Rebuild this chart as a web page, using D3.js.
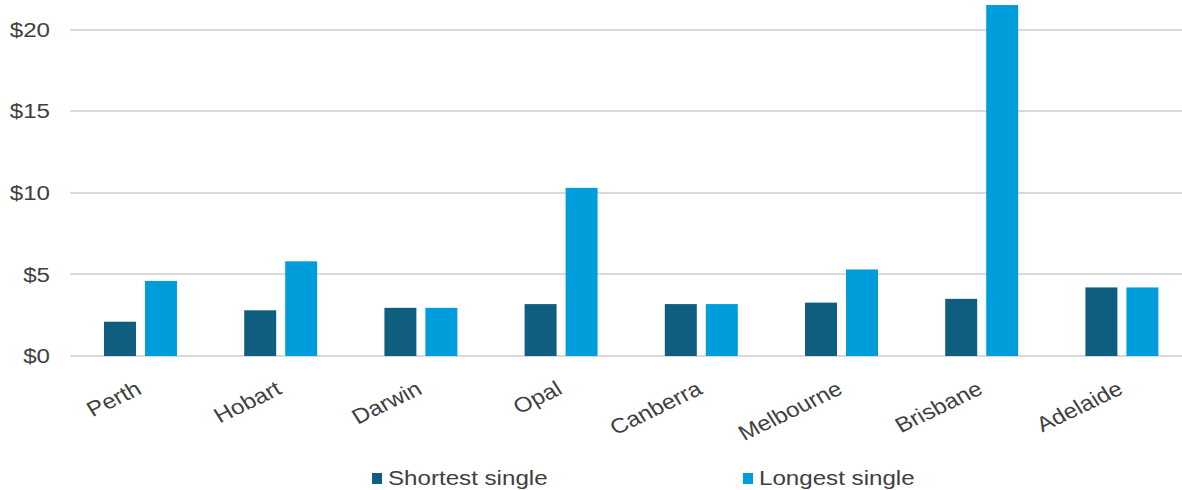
<!DOCTYPE html>
<html>
<head>
<meta charset="utf-8">
<script src="https://cdn.jsdelivr.net/npm/d3@7"></script>
<style>
  html, body { margin: 0; padding: 0; background: #fff; }
  svg { display: block; font-family: "Liberation Sans", Arial, sans-serif; }
</style>
</head>
<body>
<svg id="chart" width="1182" height="490"></svg>
<script>
// Fare data by city
const cities = ["Perth", "Hobart", "Darwin", "Opal", "Canberra", "Melbourne", "Brisbane", "Adelaide"];
const shortestSingle = [2.1, 2.8, 2.95, 3.18, 3.18, 3.27, 3.5, 4.2];
const longestSingle = [4.6, 5.8, 2.95, 10.3, 3.18, 5.3, 21.5, 4.2];
const seriesNames = ["Shortest single", "Longest single"];
const yTicks = [0, 5, 10, 15, 20];

const colors = ["#0f5e7f", "#009ddc"];
const textColor = "#404040";
const fontSize = 21;
const stretch = 1.15; // horizontal text stretch
const svg = d3.select("#chart");
const width = 1182;
const left = 70.4;
const plotRight = 1192; // plot area runs slightly past the visible edge

const x0 = d3.scaleBand().domain(cities).range([left, plotRight]).paddingInner(0).paddingOuter(0);
const x1 = d3.scaleBand().domain(seriesNames).range([0, x0.bandwidth()]).paddingInner(0.22).paddingOuter(0.82);
const y = d3.scaleLinear().domain([0, 20]).range([356, 29.5]);

// Gridlines
svg.append("g")
  .selectAll("line")
  .data(yTicks)
  .join("line")
  .attr("x1", left)
  .attr("x2", width)
  .attr("y1", d => Math.round(y(d)))
  .attr("y2", d => Math.round(y(d)))
  .attr("stroke", "#d9d9d9")
  .attr("stroke-width", 2);

// Y axis labels
svg.append("g")
  .selectAll("text")
  .data(yTicks)
  .join("text")
  .attr("transform", d => `translate(50,${y(d)}) scale(${stretch},1)`)
  .attr("text-anchor", "end")
  .attr("dy", "0.35em")
  .attr("font-size", fontSize)
  .attr("fill", textColor)
  .text(d => "$" + d);

// Bars
const rows = cities.map((c, i) => ({ city: c, values: [shortestSingle[i], longestSingle[i]] }));
svg.append("g")
  .selectAll("g")
  .data(rows)
  .join("g")
  .attr("transform", d => `translate(${x0(d.city)},0)`)
  .selectAll("rect")
  .data(d => d.values.map((v, j) => ({ key: seriesNames[j], value: v, j })))
  .join("rect")
  .attr("x", d => x1(d.key))
  .attr("width", x1.bandwidth())
  .attr("y", d => y(d.value))
  .attr("height", d => y(0) - y(d.value))
  .attr("fill", d => colors[d.j]);

// X axis labels, rotated
svg.append("g")
  .selectAll("text")
  .data(cities)
  .join("text")
  .attr("transform", d => `translate(${x0(d) + x0.bandwidth() / 2 + 2.5},393) scale(${stretch},1) rotate(-29)`)
  .attr("text-anchor", "end")
  .attr("font-size", fontSize)
  .attr("fill", textColor)
  .text(d => d);

// Legend
const legendX = [372, 743];
const legend = svg.append("g")
  .selectAll("g")
  .data(seriesNames)
  .join("g")
  .attr("transform", (d, i) => `translate(${legendX[i]},0)`);
legend.append("rect")
  .attr("x", 0).attr("y", 473)
  .attr("width", 10).attr("height", 11)
  .attr("fill", (d, i) => colors[i]);
legend.append("text")
  .attr("transform", `translate(16,485) scale(${stretch},1)`)
  .attr("font-size", fontSize)
  .attr("fill", textColor)
  .text(d => d);
</script>
</body>
</html>
